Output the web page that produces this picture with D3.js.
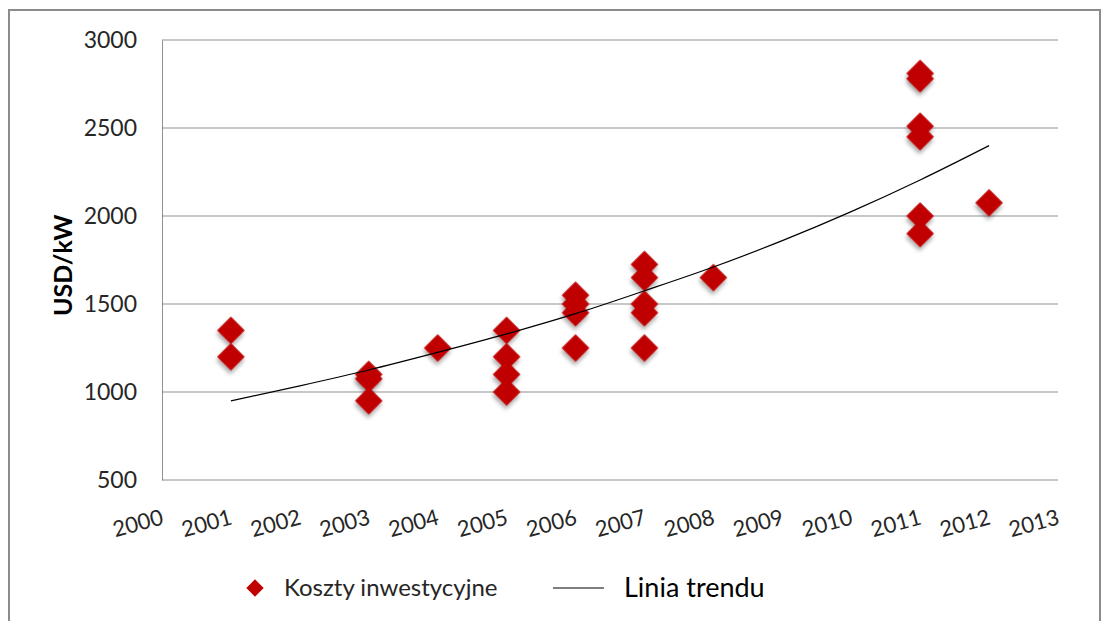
<!DOCTYPE html>
<html>
<head>
<meta charset="utf-8">
<script src="https://cdn.jsdelivr.net/npm/d3@7"></script>
<style>
  body { margin: 0; background: #fff; }
  svg { display: block; }
</style>
</head>
<body>
<div id="chart"></div>
<script>
// values
const years = [2000, 2001, 2002, 2003, 2004, 2005, 2006, 2007, 2008, 2009, 2010, 2011, 2012, 2013];
const yTicks = [500, 1000, 1500, 2000, 2500, 3000];

const costYears  = [2001, 2001, 2003, 2003, 2003, 2004, 2005, 2005, 2005, 2005,
                    2006, 2006, 2006, 2006, 2007, 2007, 2007, 2007, 2007, 2008,
                    2011, 2011, 2011, 2011, 2011, 2011, 2012];
const costValues = [1350, 1200, 1100, 1075, 950, 1250, 1350, 1200, 1100, 1000,
                    1550, 1500, 1450, 1250, 1725, 1650, 1500, 1450, 1250, 1650,
                    2810, 2780, 2510, 2450, 2000, 1900, 2075];

const trendYears  = [2001, 2002, 2003, 2004, 2005, 2006, 2007, 2008, 2009, 2010, 2011, 2012];
const trendValues = [950, 1035, 1125, 1225, 1330, 1445, 1575, 1710, 1860, 2025, 2205, 2400];

const legendLabels = ["Koszty inwestycyjne", "Linia trendu"];

const width = 1108, height = 621;
const margin = {top: 40, right: 50, bottom: 141, left: 162};
const font = "Lato, 'Open Sans', sans-serif";

const svg = d3.select("#chart").append("svg")
  .attr("width", width)
  .attr("height", height);

// drop shadow for markers
const defs = svg.append("defs");
const shadow = defs.append("filter").attr("id", "shadow")
  .attr("x", "-50%").attr("y", "-50%").attr("width", "200%").attr("height", "200%");
shadow.append("feDropShadow")
  .attr("dx", 2).attr("dy", 3).attr("stdDeviation", 2)
  .attr("flood-color", "#000").attr("flood-opacity", 0.35);

// outer frame
svg.append("rect")
  .attr("x", 9).attr("y", 10)
  .attr("width", 1091).attr("height", 640)
  .attr("fill", "none")
  .attr("stroke", "#8c8c8c")
  .attr("stroke-width", 2);

const x = d3.scaleLinear()
  .domain([2000, 2013])
  .range([margin.left, width - margin.right]);

const y = d3.scaleLinear()
  .domain([500, 3000])
  .range([height - margin.bottom, margin.top]);

// horizontal grid
svg.append("g")
  .selectAll("line")
  .data(yTicks)
  .join("line")
    .attr("x1", margin.left)
    .attr("x2", width - margin.right)
    .attr("y1", d => y(d))
    .attr("y2", d => y(d))
    .attr("stroke", "#8f8f8f")
    .attr("stroke-width", 1);

// y axis
const yAxis = svg.append("g")
  .attr("transform", `translate(${margin.left},0)`)
  .call(d3.axisLeft(y).tickValues(yTicks).tickFormat(d3.format("d")).tickSize(0).tickPadding(25));
yAxis.select(".domain").attr("stroke", "#8f8f8f");
yAxis.selectAll("text")
  .attr("font-family", font)
  .attr("font-size", 23)
  .attr("fill", "#262626");

// x axis
const xAxis = svg.append("g")
  .attr("transform", `translate(0,${height - margin.bottom})`)
  .call(d3.axisBottom(x).tickValues(years).tickFormat(d3.format("d")).tickSize(0));
xAxis.select(".domain").remove();
xAxis.selectAll("text")
  .attr("font-family", font)
  .attr("font-size", 22)
  .attr("fill", "#262626")
  .attr("text-anchor", "end")
  .attr("y", 0)
  .attr("dy", 0)
  .attr("transform", "translate(2,44) rotate(-15)");

// y title
svg.append("text")
  .attr("transform", `translate(72,${y(1720)}) rotate(-90)`)
  .attr("text-anchor", "middle")
  .attr("font-family", font)
  .attr("font-size", 25)
  .attr("font-weight", "bold")
  .attr("fill", "#000")
  .text("USD/kW");

const diamond = d3.symbol().type(d3.symbolSquare).size(380);

// markers
svg.append("g")
  .selectAll("path")
  .data(costYears.map((d, i) => [d, costValues[i]]))
  .join("path")
    .attr("d", diamond)
    .attr("transform", d => `translate(${x(d[0])},${y(d[1])}) rotate(45)`)
    .attr("fill", "#c00000")
    .attr("filter", "url(#shadow)");

// trend line
const line = d3.line()
  .x(d => x(d[0]))
  .y(d => y(d[1]))
  .curve(d3.curveMonotoneX);

svg.append("path")
  .datum(trendYears.map((d, i) => [d, trendValues[i]]))
  .attr("d", line)
  .attr("fill", "none")
  .attr("stroke", "#000")
  .attr("stroke-width", 1.2);

// legend
const legend = svg.append("g");
legend.append("path")
  .attr("d", d3.symbol().type(d3.symbolSquare).size(150))
  .attr("transform", "translate(255,588) rotate(45)")
  .attr("fill", "#c00000");
legend.append("text")
  .attr("x", 284).attr("y", 596)
  .attr("font-family", font)
  .attr("font-size", 24)
  .attr("fill", "#262626")
  .text(legendLabels[0]);
legend.append("line")
  .attr("x1", 553).attr("x2", 604)
  .attr("y1", 588).attr("y2", 588)
  .attr("stroke", "#000");
legend.append("text")
  .attr("x", 624).attr("y", 597)
  .attr("font-family", font)
  .attr("font-size", 27)
  .attr("fill", "#000")
  .text(legendLabels[1]);
</script>
</body>
</html>
